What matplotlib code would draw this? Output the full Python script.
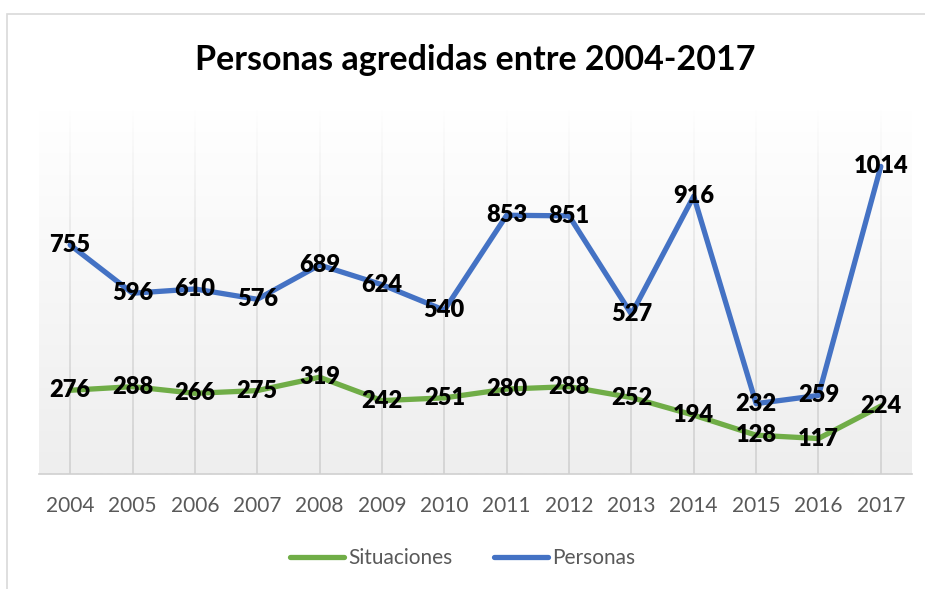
import numpy as np
import matplotlib
matplotlib.use('Agg')
import matplotlib.pyplot as plt
from matplotlib.collections import LineCollection
from matplotlib.patches import Rectangle

# Data
years = ['2004', '2005', '2006', '2007', '2008', '2009', '2010',
         '2011', '2012', '2013', '2014', '2015', '2016', '2017']
situaciones = [276, 288, 266, 275, 319, 242, 251, 280, 288, 252, 194, 128, 117, 224]
personas = [755, 596, 610, 576, 689, 624, 540, 853, 851, 527, 916, 232, 259, 1014]

green = '#70AD47'
blue = '#4472C4'

plt.rcParams['font.family'] = ['Lato', 'DejaVu Sans']

fig = plt.figure(figsize=(9.25, 5.89), dpi=100)
fig.patch.set_facecolor('white')

# chart area border (only top/left visible in the reference)
fig.patches.append(Rectangle((7 / 925, -0.1), 1.2, 1 - 14 / 589 + 0.1,
                             transform=fig.transFigure, fill=False,
                             edgecolor='#d9d9d9', linewidth=1.2))

ax = fig.add_axes([39 / 925, 1 - 474 / 589, (912 - 39) / 925, (474 - 110) / 589])
x = np.arange(len(years))
ymax = 1200
ax.set_xlim(-0.5, len(years) - 0.5)
ax.set_ylim(0, ymax)

# gradient background of the plot area (white at top, light gray at bottom)
grad = np.linspace(0.0, 1.0, 256).reshape(-1, 1)
ax.imshow(grad, extent=[-0.5, len(years) - 0.5, 0, ymax], aspect='auto',
          cmap=matplotlib.colors.LinearSegmentedColormap.from_list('bg', ['#ffffff', '#eeeeee']),
          vmin=0, vmax=1, zorder=0, origin='upper')

# fading vertical gridlines
yy = np.linspace(0, ymax, 61)
segs, cols = [], []
for xi in x:
    for a, b in zip(yy[:-1], yy[1:]):
        segs.append([(xi, a), (xi, b)])
        alpha = max(0.0, 1 - (a / ymax) ** 1.3)
        cols.append((0.82, 0.82, 0.82, alpha))
ax.add_collection(LineCollection(segs, colors=cols, linewidths=1.2, zorder=1))

ax.plot(x, situaciones, color=green, linewidth=3.8, label='Situaciones', zorder=3,
        solid_capstyle='round', solid_joinstyle='round')
ax.plot(x, personas, color=blue, linewidth=3.8, label='Personas', zorder=3,
        solid_capstyle='round', solid_joinstyle='round')

for xi, v in zip(x, situaciones):
    ax.text(xi, v, str(v), ha='center', va='center', fontsize=17,
            fontweight='heavy', color='black', zorder=4)
for xi, v in zip(x, personas):
    ax.text(xi, v, str(v), ha='center', va='center', fontsize=17,
            fontweight='heavy', color='black', zorder=4)

for s in ['top', 'right', 'left']:
    ax.spines[s].set_visible(False)
ax.spines['bottom'].set_color('#d0d0d0')
ax.spines['bottom'].set_linewidth(1.2)
ax.set_yticks([])
ax.set_xticks(x)
ax.set_xticklabels(years)
ax.tick_params(axis='x', length=0, pad=16, labelsize=15, labelcolor='#595959')

fig.text(475 / 925, 1 - 60 / 589, 'Personas agredidas entre 2004-2017',
         ha='center', va='center', fontsize=24.5, fontweight='bold', color='black')

fig.legend(loc='center', bbox_to_anchor=(0.5, 1 - 558 / 589), ncol=2, frameon=False,
           fontsize=15, labelcolor='#595959', handlelength=2.6, handletextpad=0.2,
           columnspacing=2.0)

fig.savefig('out.png', dpi=100, facecolor='white')
